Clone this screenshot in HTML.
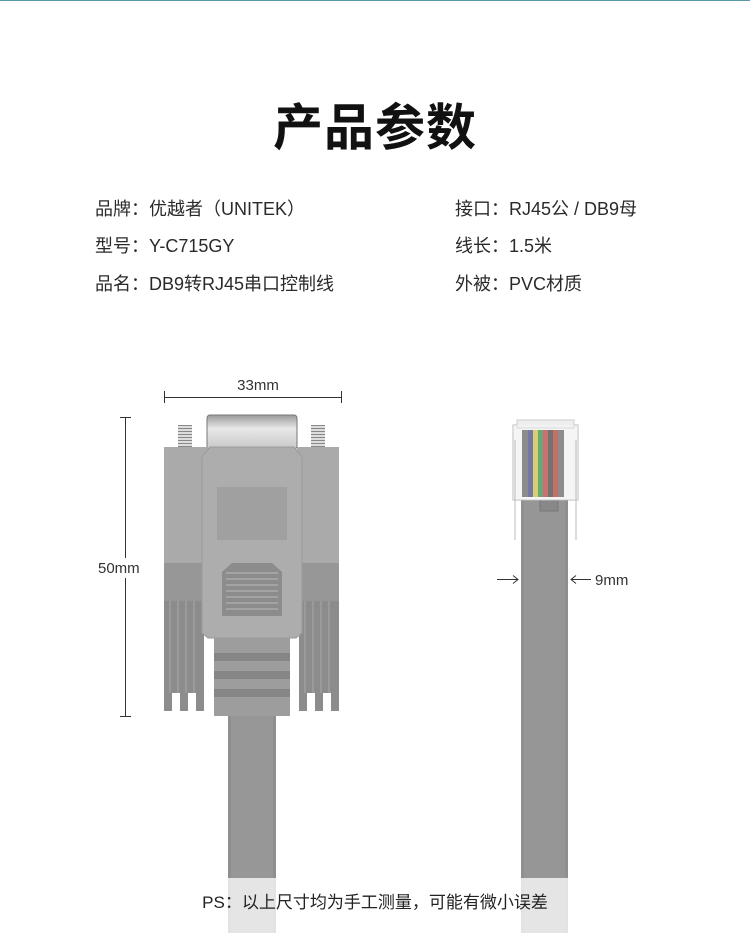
<!DOCTYPE html>
<html><head><meta charset="utf-8"><style>
*{margin:0;padding:0;box-sizing:border-box}
body{width:750px;height:933px;overflow:hidden;background:#fff;position:relative;font-family:"Liberation Sans","Noto Sans CJK SC",sans-serif;color:#222}
.a{position:absolute}
.t{font-size:18px;line-height:22px;white-space:nowrap;color:#2a2a2a}
</style></head><body>
<div class="a" style="left:0;top:0;width:750px;height:1px;background:#5a9aa8"></div>
<div class="a" style="left:0;top:98px;width:750px;text-align:center;font-size:50px;font-weight:bold;line-height:60px;color:#111;letter-spacing:1px">产品参数</div>
<div class="a t" style="left:95px;top:198px">品牌：优越者（UNITEK）</div>
<div class="a t" style="left:95px;top:235px">型号：Y-C715GY</div>
<div class="a t" style="left:95px;top:273px">品名：DB9转RJ45串口控制线</div>
<div class="a t" style="left:455px;top:198px">接口：RJ45公 / DB9母</div>
<div class="a t" style="left:455px;top:235px">线长：1.5米</div>
<div class="a t" style="left:455px;top:273px">外被：PVC材质</div>

<svg class="a" style="left:0;top:0" width="750" height="933">
<defs>
<linearGradient id="met" x1="0" y1="0" x2="0" y2="1"><stop offset="0" stop-color="#9a9a9a"/><stop offset=".4" stop-color="#e8e8e8"/><stop offset="1" stop-color="#c8c8c8"/></linearGradient>
<pattern id="thr" width="4" height="3" patternUnits="userSpaceOnUse"><rect width="4" height="3" fill="#ddd"/><rect y="2" width="4" height="1" fill="#888"/></pattern>
</defs>
<g stroke="#333" stroke-width="1" fill="none">
<line x1="164.5" y1="397.5" x2="341.5" y2="397.5"/><line x1="164.5" y1="391" x2="164.5" y2="403"/><line x1="341.5" y1="391" x2="341.5" y2="403"/>
<line x1="125.5" y1="417" x2="125.5" y2="717"/><line x1="120" y1="417.5" x2="131" y2="417.5"/><line x1="120" y1="716.5" x2="131" y2="716.5"/>
<line x1="497" y1="579.5" x2="518" y2="579.5"/><polyline points="513,575.5 518,579.5 513,583.5"/>
<line x1="571" y1="579.5" x2="591" y2="579.5"/><polyline points="576,575.5 571,579.5 576,583.5"/>
</g>
<rect x="97" y="558" width="54" height="20" fill="#fff"/>
<text x="258" y="390" font-size="15" text-anchor="middle" fill="#333" font-family="Liberation Sans">33mm</text>
<text x="98" y="573" font-size="15" fill="#333" font-family="Liberation Sans">50mm</text>
<text x="595" y="585" font-size="15" fill="#333" font-family="Liberation Sans">9mm</text>

<!-- DB9 -->
<rect x="228" y="700" width="48" height="233" fill="#8f8f8f"/>
<rect x="231" y="700" width="42" height="233" fill="#979797"/>
<rect x="178" y="425" width="14" height="24" fill="url(#thr)"/>
<rect x="311" y="425" width="14" height="24" fill="url(#thr)"/>
<rect x="207" y="415" width="90" height="34" rx="3" fill="url(#met)" stroke="#777"/>
<rect x="164" y="447" width="44" height="116" fill="#aaaaaa"/>
<rect x="164" y="563" width="44" height="38" fill="#979797"/>
<rect x="297" y="447" width="42" height="116" fill="#aaaaaa"/>
<rect x="297" y="563" width="42" height="38" fill="#979797"/>
<g fill="#8c8c8c">
<path d="M164 601h40v110h-8v-18h-8v18h-8v-18h-8v18h-8z"/>
<path d="M299 601h40v110h-8v-18h-8v18h-8v-18h-8v18h-8z"/>
</g>
<g stroke="#a8a8a8" stroke-width="1">
<line x1="170" y1="601" x2="170" y2="693"/><line x1="178" y1="601" x2="178" y2="693"/><line x1="186" y1="601" x2="186" y2="693"/><line x1="194" y1="601" x2="194" y2="693"/>
<line x1="305" y1="601" x2="305" y2="693"/><line x1="313" y1="601" x2="313" y2="693"/><line x1="321" y1="601" x2="321" y2="693"/><line x1="329" y1="601" x2="329" y2="693"/>
</g>
<path d="M210 447h84l8 10v176l-6 5h-88l-6-5v-176z" fill="#adadad" stroke="#9a9a9a"/>
<rect x="217" y="487" width="70" height="53" fill="#a0a0a0"/>
<path d="M232 563h40l10 9v44h-60v-44z" fill="#8c8c8c"/>
<g stroke="#a3a3a3" stroke-width="2"><line x1="226" y1="573" x2="278" y2="573"/><line x1="226" y1="579" x2="278" y2="579"/><line x1="226" y1="585" x2="278" y2="585"/><line x1="226" y1="591" x2="278" y2="591"/><line x1="226" y1="597" x2="278" y2="597"/><line x1="226" y1="603" x2="278" y2="603"/><line x1="226" y1="609" x2="278" y2="609"/></g>
<rect x="214" y="638" width="76" height="78" fill="#9d9d9d"/>
<g fill="#868686"><rect x="214" y="653" width="76" height="8"/><rect x="214" y="671" width="76" height="8"/><rect x="214" y="689" width="76" height="8"/></g>

<!-- RJ45 -->
<rect x="521" y="497" width="47" height="436" fill="#8f8f8f"/>
<rect x="524" y="497" width="41" height="436" fill="#969696"/>
<rect x="540" y="497" width="18" height="14" fill="#888" stroke="#777"/>
<rect x="513" y="425" width="65" height="75" fill="#f2f2f2" stroke="#bbb"/>
<rect x="517" y="420" width="57" height="8" fill="#eee" stroke="#ccc"/>
<g>
<rect x="522" y="430" width="6" height="67" fill="#666"/>
<rect x="528" y="430" width="5" height="67" fill="#4a4a8a"/>
<rect x="533" y="430" width="5" height="67" fill="#c8c040"/>
<rect x="538" y="430" width="5" height="67" fill="#3a8a4a"/>
<rect x="543" y="430" width="5" height="67" fill="#b84040"/>
<rect x="548" y="430" width="5" height="67" fill="#444"/>
<rect x="553" y="430" width="5" height="67" fill="#b04030"/>
<rect x="558" y="430" width="6" height="67" fill="#666"/>
</g>
<rect x="513" y="425" width="65" height="75" fill="#fff" opacity=".25"/>
<g stroke="#bbb"><line x1="515" y1="440" x2="515" y2="540"/><line x1="576" y1="440" x2="576" y2="540"/></g>
</svg>

<div class="a" style="left:0;top:878px;width:750px;height:55px;background:rgba(255,255,255,.75)"></div>
<div class="a t" style="left:0;top:892px;width:750px;text-align:center;font-size:17px;color:#222">PS：以上尺寸均为手工测量，可能有微小误差</div>
</body></html>
